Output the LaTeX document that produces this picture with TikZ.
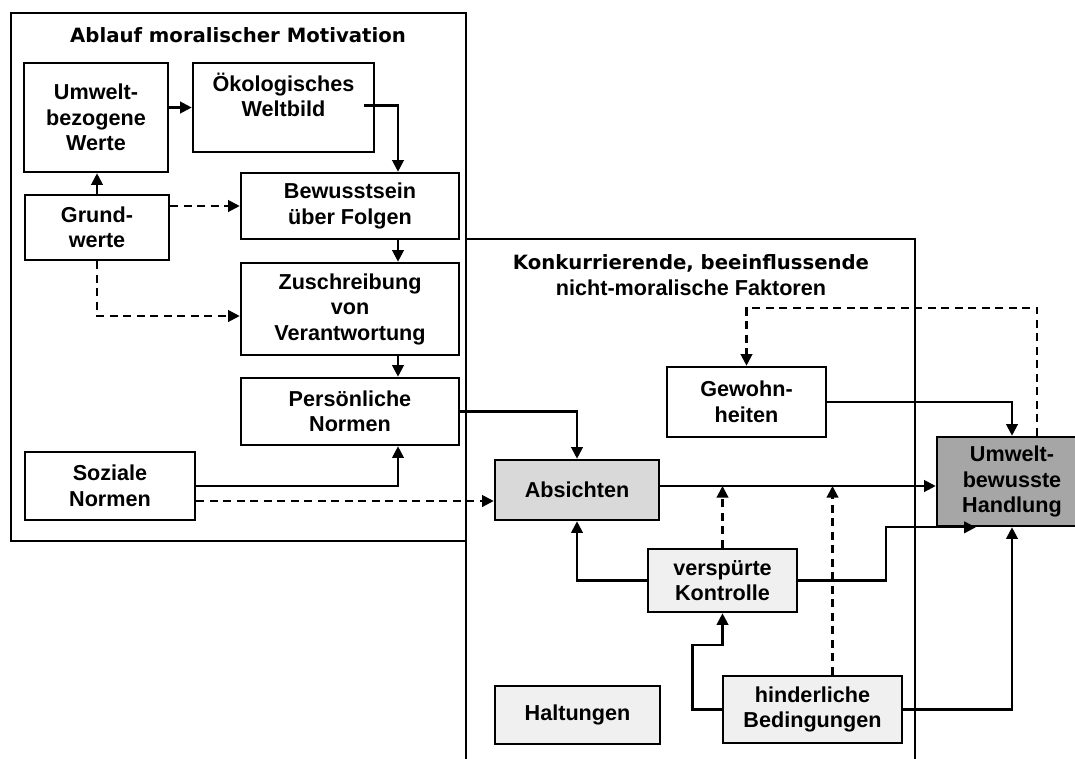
\documentclass[tikz,border=0pt]{standalone}
\usepackage{fontspec}
\setmainfont{Liberation Sans}[BoldFont={Liberation Sans Bold}]
\newfontfamily\headfont{DejaVu Sans}[BoldFont={DejaVu Sans Bold}]
\usepackage{xcolor}
\usetikzlibrary{arrows.meta,calc}

\definecolor{absgray}{HTML}{D9D9D9}
\definecolor{handgray}{HTML}{A6A6A6}
\definecolor{palegray}{HTML}{F0F0F0}

\begin{document}
\begin{tikzpicture}[x=0.02cm,y=-0.02cm,
	  box/.style={draw,line width=1.5pt,align=center,inner sep=0pt,
	    font=\bfseries\fontsize{12.3}{14.5}\selectfont},
	  conn/.style={line width=1.2pt,-{Triangle[length=2.3mm,width=2.3mm]}},
	  dconn/.style={conn,dash pattern=on 1.6mm off 1.1mm},
	  frame/.style={line width=1.5pt}]

	  \useasboundingbox (0,0) rectangle (1075,758);

	  % the two frames
	  \draw[frame] (11,13) rectangle (466,541);
	  \draw[frame] (466,770) -- (466,239) -- (915,239) -- (915,770);

	  \node[font=\headfont\bfseries\fontsize{11.2}{14}\selectfont] (ttlleft) at (238,35) {Ablauf moralischer Motivation};
	  \node[align=center,font=\bfseries\fontsize{12.3}{14.8}\selectfont] (ttlright) at (691,275)
	    {{\headfont\bfseries\fontsize{11.2}{14.8}\selectfont Konkurrierende, beeinflussende}\\
	     {\bfseries nicht-moralische Faktoren}};

	  % moral motivation
	  \node[box,minimum width=2.88cm,minimum height=2.18cm] (umwelt) at (96,117.5) {Umwelt-\\bezogene\\Werte};
	  \node[box,minimum width=3.62cm,minimum height=1.78cm] (oeko) at (283.5,107.5) {Ökologisches\\Weltbild\\~};
	  \node[box,minimum width=4.36cm,minimum height=1.32cm] (bewusst) at (350,206) {Bewusstsein\\über Folgen};
	  \node[box,minimum width=2.88cm,minimum height=1.30cm] (grund) at (97,227.5) {Grund-\\werte};
	  \node[box,minimum width=4.36cm,minimum height=1.84cm] (zuschr) at (350,309) {Zuschreibung\\von\\Verantwortung};
	  \node[box,minimum width=4.36cm,minimum height=1.34cm] (pers) at (350,411.5) {Persönliche\\Normen};
	  \node[box,minimum width=3.40cm,minimum height=1.36cm] (sozial) at (110,486) {Soziale\\Normen};

	  % non-moral factors
	  \node[box,fill=absgray,minimum width=3.28cm,minimum height=1.20cm] (absicht) at (577,490) {Absichten};
	  \node[box,minimum width=3.18cm,minimum height=1.40cm] (gewohn) at (746.5,402) {Gewohn-\\heiten};
	  \node[box,fill=handgray,minimum width=3.00cm,minimum height=1.78cm] (handl) at (1012,481.5) {Umwelt-\\bewusste\\Handlung};
	  \node[box,fill=palegray,minimum width=2.98cm,minimum height=1.26cm] (kontr) at (722.5,580.5) {verspürte\\Kontrolle};
	  \node[box,fill=palegray,minimum width=3.30cm,minimum height=1.16cm] (haltung) at (577.5,715) {Haltungen};
	  \node[box,fill=palegray,minimum width=3.58cm,minimum height=1.34cm] (hinder) at (812.5,709.5) {hinderliche\\Bedingungen};

	  % connectors, left
	  \draw[conn] (umwelt.east |- oeko.west) -- (oeko.west);
	  \draw[conn] ($(oeko.east)+(-11,-2)$) -| ($(bewusst.north)+(48,0)$);
	  \draw[conn] (grund.north) -- (grund.north |- umwelt.south);
	  \draw[dconn] (grund.east |- bewusst.west) -- (bewusst.west);
	  \draw[conn] ($(bewusst.south)+(48,0)$) -- ($(zuschr.north)+(48,0)$);
	  \draw[dconn] (grund.south) |- ($(zuschr.west)+(0,7)$);
	  \draw[conn] ($(zuschr.south)+(48,0)$) -- ($(pers.north)+(48,0)$);
	  \draw[conn] (sozial.east) -| ($(pers.south)+(48,0)$);
	  \draw[dconn] ($(sozial.east)+(0,15)$) -- ($(absicht.west)+(0,11)$);
	  \draw[conn] (pers.east) -| (absicht.north);

	  % connectors, right
	  \coordinate (mid) at ($(absicht.east)+(0,-4)$);
	  \draw[conn] (mid) -- (mid -| handl.west);
	  \draw[dconn] (kontr.north) -- (kontr.north |- mid);
	  \draw[dconn] ($(hinder.north)+(20,0)$) coordinate (hn) -- (hn |- mid);
	  \draw[conn] (kontr.west) -| (absicht.south);
	  \draw[conn] (kontr.east) -| ($(handl.south west)+(-50,0)$) -- ($(handl.south west)+(40,0)$);
	  \draw[conn] (gewohn.east) -| (handl.north);
	  \draw[dconn] ($(handl.north)+(25,0)$) |- ($(gewohn.north)+(0,-58)$) -- (gewohn.north);
	  \draw[conn] (hinder.west) -| ($(kontr.south)+(-30,32)$) -| (kontr.south);
	  \draw[conn] (hinder.east) -| (handl.south);
	\end{tikzpicture}
\end{document}
